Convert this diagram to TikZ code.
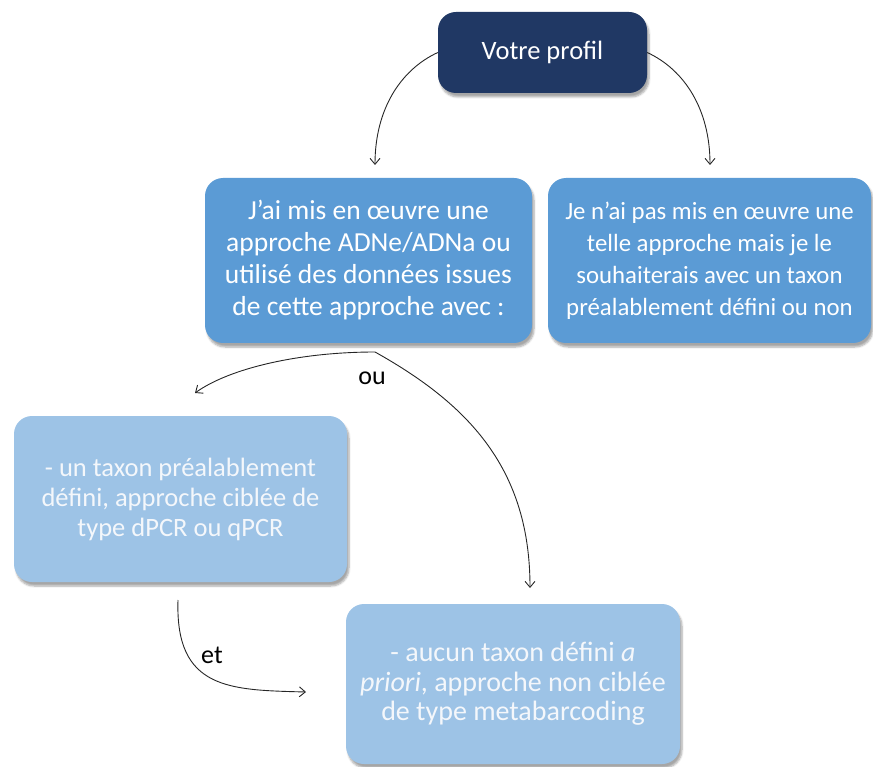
\documentclass[tikz,border=0pt]{standalone}
\usepackage{fontspec}
\setmainfont{Carlito}
\usetikzlibrary{arrows.meta,shadows.blur}
\definecolor{navy}{HTML}{203864}
\definecolor{midblue}{HTML}{5B9BD5}
\definecolor{lightblue}{HTML}{9DC3E6}
\definecolor{paletext}{HTML}{F4F7FB}
\tikzset{
  box/.style={rectangle, rounded corners=18pt, draw=none, align=center,
    text=white, font=\fontsize{26.5}{32}\selectfont,
    blur shadow={shadow xshift=2pt, shadow yshift=-4pt, shadow blur steps=6, shadow opacity=35}},
  darkbox/.style={box, fill=navy},
  midbox/.style={box, fill=midblue},
  lightbox/.style={box, fill=lightblue, text=paletext, font=\fontsize{26.5}{30}\selectfont},
  conn/.style={draw=black!85, line width=0.9pt, -{Straight Barb[length=6pt,width=10pt]}},
  lbl/.style={font=\fontsize{26}{28}\selectfont, text=black}
}
\begin{document}
\begin{tikzpicture}[x=1pt,y=-1pt]
\useasboundingbox (0,0) rectangle (873,767);
\node[darkbox, minimum width=209pt, minimum height=81pt] (b1) at (542.5,52.5) {Votre profil};
\node[midbox, minimum width=327pt, minimum height=165pt, font=\fontsize{27.5}{32}\selectfont] (b2) at (368.5,260.5)
  {J’ai mis en œuvre une\\approche ADNe/ADNa ou\\utilisé des données issues\\de cette approche avec :};
\node[midbox, minimum width=323pt, minimum height=165pt, font=\fontsize{24.8}{32}\selectfont] (b3) at (709.5,260.5)
  {Je n’ai pas mis en œuvre une\\telle approche mais je le\\souhaiterais avec un taxon\\préalablement défini ou non};
\node[lightbox, minimum width=333pt, minimum height=166pt] (b4) at (180.5,499)
  {- un taxon préalablement\\défini, approche ciblée de\\type dPCR ou qPCR};
\node[lightbox, minimum width=334pt, minimum height=160pt, font=\fontsize{28}{29.5}\selectfont] (b5) at (513,684)
  {- aucun taxon défini \textit{a}\\\textit{priori}, approche non ciblée\\de type metabarcoding};
\coordinate (t1) at (375,165);
\coordinate (t2) at (710,165);
\coordinate (o) at (375,352);
\coordinate (t3) at (195,393);
\coordinate (t4) at (530,588);
\coordinate (s5) at (178,600);
\coordinate (t5) at (306,692);
\draw[conn] (b1.west) .. controls (400,70) and (375,110) .. (t1);
\draw[conn] (b1.east) .. controls (685,70) and (710,110) .. (t2);
\draw[conn] (o) .. controls (300,352) and (230,368) .. (t3);
\draw[conn] (o) .. controls (470,405) and (530,470) .. (t4);
\draw[conn] (s5) .. controls (175,690) and (230,690) .. (t5);
\node[lbl] (ou) at (372,378) {ou};
\node[lbl] (et) at (212,655) {et};
\end{tikzpicture}
\end{document}
